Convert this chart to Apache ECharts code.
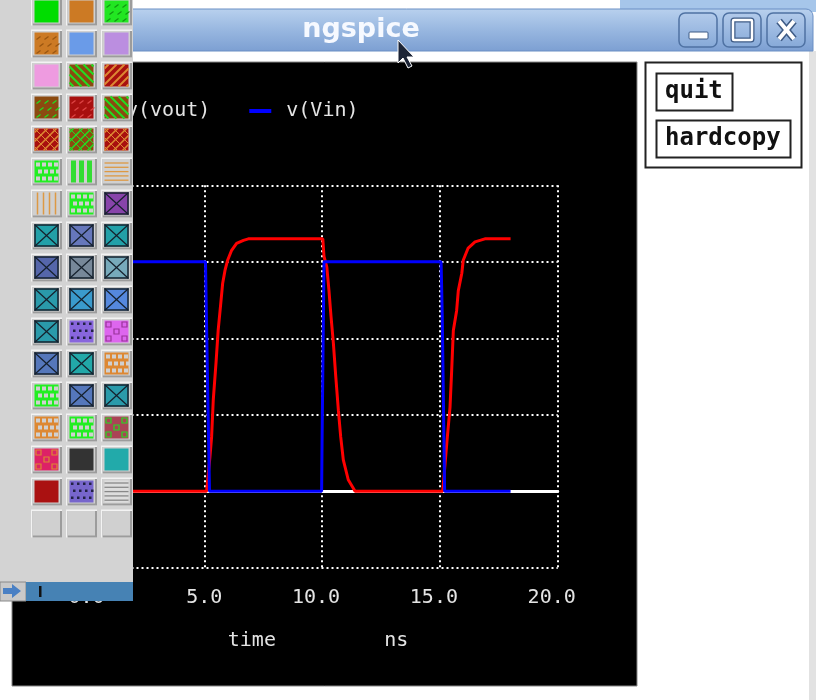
<!DOCTYPE html>
<html>
<head>
<meta charset="utf-8">
<script src="https://cdn.jsdelivr.net/npm/echarts@6/dist/echarts.min.js"></script>
<style>html,body{margin:0;padding:0;background:#fff}#c{width:816px;height:700px}</style>
</head>
<body>
<div id="c"></div>
<script>
// ---- data ----
const seriesNames = ['v(vout)', 'v(Vin)'];
const xTickValues = [0, 5, 10, 15, 20];
const xTickLabels = ['0.0', '5.0', '10.0', '15.0', '20.0'];
const yTickValues = [-1, 0, 1, 2, 3, 4];
const yTickLabels = ['-1.0', '0.0', '1.0', '2.0', '3.0', '4.0'];
const xAxisNames = ['time', 'ns'];

const voutTime = [0, 5.1, 5.17, 5.24, 5.31, 5.38, 5.5, 5.59, 5.7, 5.78, 5.88, 5.99, 6.16, 6.37, 6.66, 6.87,
  10.03, 10.08, 10.2, 10.29, 10.38, 10.48, 10.58, 10.69, 10.79, 10.9, 11.11, 11.4,
  15.12, 15.22, 15.29, 15.43, 15.5, 15.57, 15.71, 15.78, 15.93, 15.99, 16.2, 16.49, 16.91, 18.0];
const voutValue = [0, 0, 0.23, 0.45, 0.71, 1.19, 1.69, 2.11, 2.46, 2.72, 2.89, 3.02, 3.15, 3.24, 3.28, 3.3,
  3.3, 3.07, 2.93, 2.63, 2.28, 1.93, 1.5, 1.06, 0.71, 0.41, 0.15, 0,
  0, 0.36, 0.62, 1.1, 1.58, 2.1, 2.36, 2.62, 2.85, 3.02, 3.18, 3.26, 3.3, 3.3];

const vinTime = [0, 5.05, 5.1, 5.18, 5.22, 9.98, 10.0, 10.08, 15.05, 15.1, 15.17, 15.2, 18.0];
const vinValue = [3, 3, 2.1, 0.7, 0, 0, 0.7, 3, 3, 2.3, 0.7, 0, 0];

// ---- window decoration (not data) ----
const MONO = "'DejaVu Sans Mono', monospace";
const deco = [];
deco.push({type:'rect', z:-5, shape:{x:620,y:0,width:196,height:12}, style:{fill:'#a6c6ea'}});
deco.push({type:'rect', z:-4, shape:{x:0,y:9,width:813,height:42,r:[7,7,0,0]},
  style:{fill:new echarts.graphic.LinearGradient(0,0,0,1,[{offset:0,color:'#b9d1ee'},{offset:0.5,color:'#98b7e0'},{offset:1,color:'#7c9fd2'}]), stroke:'#6a8fc4', lineWidth:1}});
deco.push({type:'text', z:-3, style:{x:361,y:30,text:'ngspice',fill:'#f6f9ff',font:"bold 27px 'DejaVu Sans', sans-serif",
  align:'center',verticalAlign:'middle',shadowColor:'rgba(40,60,110,0.7)',shadowBlur:3}});
[679,723,767].forEach(function(bx){
  deco.push({type:'rect', z:-3, shape:{x:bx,y:13,width:38,height:34,r:6},
    style:{fill:new echarts.graphic.LinearGradient(0,0,0,1,[{offset:0,color:'#b3cbeb'},{offset:1,color:'#86a9d8'}]), stroke:'#4f72a3', lineWidth:1.5}});
});
deco.push({type:'rect', z:-2, shape:{x:689,y:32,width:19,height:7,r:1}, style:{fill:'#fff',stroke:'#3d5a85',lineWidth:1}});
deco.push({type:'rect', z:-2, shape:{x:733,y:20,width:19,height:20,r:1}, style:{fill:'none',stroke:'#3d5a85',lineWidth:5}});
deco.push({type:'rect', z:-2, shape:{x:733,y:20,width:19,height:20,r:1}, style:{fill:'none',stroke:'#fff',lineWidth:2.5}});
deco.push({type:'polyline', z:-2, shape:{points:[[779,21],[794,39]]}, style:{stroke:'#3d5a85',lineWidth:7}});
deco.push({type:'polyline', z:-2, shape:{points:[[794,21],[779,39]]}, style:{stroke:'#3d5a85',lineWidth:7}});
deco.push({type:'polyline', z:-2, shape:{points:[[779,21],[794,39]]}, style:{stroke:'#fff',lineWidth:4}});
deco.push({type:'polyline', z:-2, shape:{points:[[794,21],[779,39]]}, style:{stroke:'#fff',lineWidth:4}});
deco.push({type:'rect', z:-5, shape:{x:809,y:51,width:7,height:649}, style:{fill:'#e2e2e2'}});
deco.push({type:'rect', z:-5, shape:{x:12,y:62,width:625,height:624}, style:{fill:'#000',stroke:'#888',lineWidth:1}});
deco.push({type:'rect', z:-5, shape:{x:645.5,y:62.5,width:156,height:105}, style:{fill:'#fff',stroke:'#222',lineWidth:2}});
deco.push({type:'rect', z:-5, shape:{x:656.5,y:73.5,width:76,height:37}, style:{fill:'#fff',stroke:'#222',lineWidth:2}});
deco.push({type:'rect', z:-5, shape:{x:656.5,y:120.5,width:134,height:37}, style:{fill:'#fff',stroke:'#222',lineWidth:2}});
deco.push({type:'text', z:-4, style:{x:665,y:92,text:'quit',fill:'#111',font:"bold 24px "+MONO,verticalAlign:'middle'}});
deco.push({type:'text', z:-4, style:{x:665,y:139,text:'hardcopy',fill:'#111',font:"bold 24px "+MONO,verticalAlign:'middle'}});

const pal = [
  [['s','#00dd00'],['s','#cc7a24'],['dash','#22e622','#119911']],
  [['dash','#cc7a24','#995511'],['s','#6a9be8'],['s','#bb8ee0']],
  [['s','#ee9be0'],['bs','#8b4a10','#22dd22'],['fs','#a8100f','#dd8833']],
  [['dash','#8b4a10','#22dd22'],['dash','#a8100f','#dd4444'],['bs','#8b4a10','#22dd22']],
  [['brick','#a8100f','#dd8833'],['brick','#8b4a10','#22dd22'],['brick','#a8100f','#dd8833']],
  [['dots','#22ee22','#d0d0d0'],['vl','#d0d0d0','#33dd33',5],['hl','#d0d0d0','#dd9944']],
  [['vl','#d0d0d0','#dd9944',1.5],['dots','#22ee22','#d0d0d0'],['x','#8844aa']],
  [['x','#22a0a8'],['x','#6677bb'],['x','#22a0a8']],
  [['x','#5566aa'],['x','#778899'],['x','#77aabb']],
  [['x','#2a9aaa'],['x','#3a9acc'],['x','#5588dd']],
  [['x','#2a9aaa'],['dots','#8866dd','#222244'],['check','#dd66ee','#993399']],
  [['x','#5577bb'],['x','#22a8a8'],['dots','#dd8833','#d0d0d0']],
  [['dots','#22ee22','#d0d0d0'],['x','#5577bb'],['x','#2a9aaa']],
  [['dots','#dd8833','#d0d0d0'],['dots','#22ee22','#d0d0d0'],['check','#aa4455','#22dd22']],
  [['check','#dd2266','#dd8833'],['s','#333333'],['s','#22aaaa']],
  [['s','#aa1111'],['dots','#7766cc','#222244'],['hl','#dddddd','#888888']],
  [['e'],['e'],['e']]
];
const PZ = 100, PL = 1;
deco.push({type:'rect', zlevel:PL, z:PZ, shape:{x:0,y:0,width:133,height:583}, style:{fill:'#d3d3d3'}});
function ln(x1,y1,x2,y2,c,w){deco.push({type:'line',zlevel:PL,z:PZ+3,shape:{x1:x1,y1:y1,x2:x2,y2:y2},style:{stroke:c,lineWidth:w}});}
function rc(x,y,w,h,f,s,lw){deco.push({type:'rect',zlevel:PL,z:PZ+3,shape:{x:x,y:y,width:w,height:h},style:{fill:f||'none',stroke:s||null,lineWidth:lw||1}});}
function diagBack(x0,y0,w,h,d,c,lw){ const a=Math.max(0,d), b=Math.min(w,h+d); if(a<b) ln(x0+a,y0+a-d,x0+b,y0+b-d,c,lw); }
function diagFwd(x0,y0,w,h,s,c,lw){ const a=Math.max(0,s-h), b=Math.min(w,s); if(a<b) ln(x0+a,y0+s-a,x0+b,y0+s-b,c,lw); }
pal.forEach(function(row,r){
  row.forEach(function(sp,c){
    const ox=[31,66,101][c], oy=-2.5+32*r;
    deco.push({type:'rect',zlevel:PL,z:PZ+1,shape:{x:ox,y:oy,width:31,height:28},style:{fill:'#f3f3f3'}});
    deco.push({type:'rect',zlevel:PL,z:PZ+1,shape:{x:ox+1.5,y:oy+1.5,width:29.5,height:26.5},style:{fill:'#9c9c9c'}});
    deco.push({type:'rect',zlevel:PL,z:PZ+1,shape:{x:ox+1.5,y:oy+1.5,width:27.5,height:24.5},style:{fill:'#d0d0d0'}});
    if(sp[0]==='e') return;
    const ix=ox+3.5, iy=oy+3, iw=24, ih=22;
    deco.push({type:'rect',zlevel:PL,z:PZ+2,shape:{x:ix,y:iy,width:iw,height:ih},style:{fill:sp[1]}});
    const t=sp[0], c2=sp[2];
    if(t==='x'){
      rc(ix+0.5,iy+0.5,iw-1,ih-1,null,'#15202c',1.5);
      ln(ix,iy,ix+iw,iy+ih,'#15202c',1.2); ln(ix+iw,iy,ix,iy+ih,'#15202c',1.2);
    } else if(t==='bs'){
      for(let d=-18; d<24; d+=8) diagBack(ix,iy,iw,ih,d,c2,2);
    } else if(t==='fs'){
      for(let s=4; s<48; s+=8) diagFwd(ix,iy,iw,ih,s,c2,2);
    } else if(t==='brick'){
      for(let s=4; s<48; s+=9) diagFwd(ix,iy,iw,ih,s,c2,1.6);
      for(let d=-18; d<24; d+=9) diagBack(ix,iy,iw,ih,d,c2,1);
    } else if(t==='dash'){
      for(let j=0;j<3;j++) for(let i=0;i<3;i++){ const ux=ix+2+i*8+(j%2)*3, uy=iy+4+j*7; ln(ux,uy+3,ux+4,uy,c2,1.3); }
    } else if(t==='dots'){
      const sz = c2==='#222244'?2.5:4;
      for(let j=0;j<3;j++) for(let i=0;i<4;i++){ rc(ix+1.5+i*6+(j%2)*2, iy+2+j*7, sz, sz, c2); }
    } else if(t==='vl'){
      const w=sp[3]||1.5, n = w>3?3:4, step = iw/n;
      for(let i=0;i<n;i++){ const xx=ix+step*(i+0.5); ln(xx,iy,xx,iy+ih,c2,w); }
    } else if(t==='hl'){
      for(let j=0;j<5;j++){ const yy=iy+2.5+j*4.3; ln(ix,yy,ix+iw,yy,c2,1.3); }
    } else if(t==='check'){
      for(let j=0;j<3;j++) for(let i=0;i<3;i++){ if((i+j)%2===0) rc(ix+1.5+i*8, iy+1.5+j*7, 5, 5, null, c2, 1.2); }
    }
  });
});
deco.push({type:'rect', zlevel:PL, z:PZ+20, shape:{x:0,y:582,width:26,height:19}, style:{fill:'#c9c9c9',stroke:'#8a8a8a',lineWidth:1}});
deco.push({type:'polygon', zlevel:PL, z:PZ+21, shape:{points:[[3,588],[12,588],[12,584],[21,591],[12,598],[12,594],[3,594]]}, style:{fill:'#4a80c4'}});
deco.push({type:'rect', zlevel:PL, z:PZ+20, shape:{x:26,y:582,width:107,height:19}, style:{fill:'#4682b4'}});
deco.push({type:'rect', zlevel:PL, z:PZ+21, shape:{x:39,y:586,width:2.5,height:11}, style:{fill:'#111'}});
deco.push({type:'polygon', zlevel:PL, z:PZ+30, shape:{points:[[398,40],[398,63],[403,58],[408,68],[412,66],[407,57],[414,57]]},
  style:{fill:'#1c2436',stroke:'#fff',lineWidth:1}});

// ---- chart ----
const chart = echarts.init(document.getElementById('c'), null, {renderer:'canvas', width:816, height:700});
const txtCol = '#e4e4e4';
chart.setOption({
  animation:false,
  backgroundColor:'#ffffff',
  legend:{data:seriesNames, left:84, top:96, icon:'rect', itemWidth:22, itemHeight:4, itemGap:39, selectedMode:false,
    textStyle:{color:txtCol, fontFamily:MONO, fontSize:20, padding:[0,0,0,10]}},
  grid:{left:86.5, right:258.3, top:185.3, bottom:132.3, containLabel:false},
  xAxis:[{
    type:'value', min:0, max:20, interval:5, z:1,
    axisLine:{show:false, onZero:false}, axisTick:{show:false},
    axisLabel:{color:txtCol, fontFamily:MONO, fontSize:20, margin:30, verticalAlign:'middle', align:'center',
      formatter:function(v){const i=xTickValues.indexOf(v); if(i<0) return ''; const s=xTickLabels[i]; return s.length===4? s+' ' : s;}},
    splitLine:{show:true, lineStyle:{color:'#ffffff', width:2, type:[2,3]}},
    name: xAxisNames[0] + '         ' + xAxisNames[1], nameLocation:'middle', nameGap:73.5,
    nameTextStyle:{color:txtCol, fontFamily:MONO, fontSize:20, verticalAlign:'middle', padding:[0,8,0,0]}
  },{
    type:'value', min:0, max:20, position:'bottom', show:true, z:1,
    axisLine:{show:true, onZero:true, lineStyle:{color:'#ffffff', width:3}},
    axisTick:{show:false}, axisLabel:{show:false}, splitLine:{show:false}
  }],
  yAxis:{
    type:'value', min:-1, max:4, interval:1, z:1,
    axisLine:{show:false}, axisTick:{show:false},
    axisLabel:{color:txtCol, fontFamily:MONO, fontSize:20,
      formatter:function(v){const i=yTickValues.indexOf(v); return i<0?'':yTickLabels[i];}},
    splitLine:{show:true, lineStyle:{color:'#ffffff', width:2, type:[2,3]}}
  },
  series:[
    {name:seriesNames[0], type:'line', xAxisIndex:0, symbol:'none', showSymbol:false, z:3,
     color:'#ff0000', lineStyle:{color:'#ff0000', width:3},
     data: voutTime.map(function(t,i){return [t, voutValue[i]];})},
    {name:seriesNames[1], type:'line', xAxisIndex:0, symbol:'none', showSymbol:false, z:4,
     color:'#0000ff', lineStyle:{color:'#0000ff', width:3},
     data: vinTime.map(function(t,i){return [t, vinValue[i]];})}
  ],
  graphic:{elements:deco}
});
</script>
</body>
</html>
